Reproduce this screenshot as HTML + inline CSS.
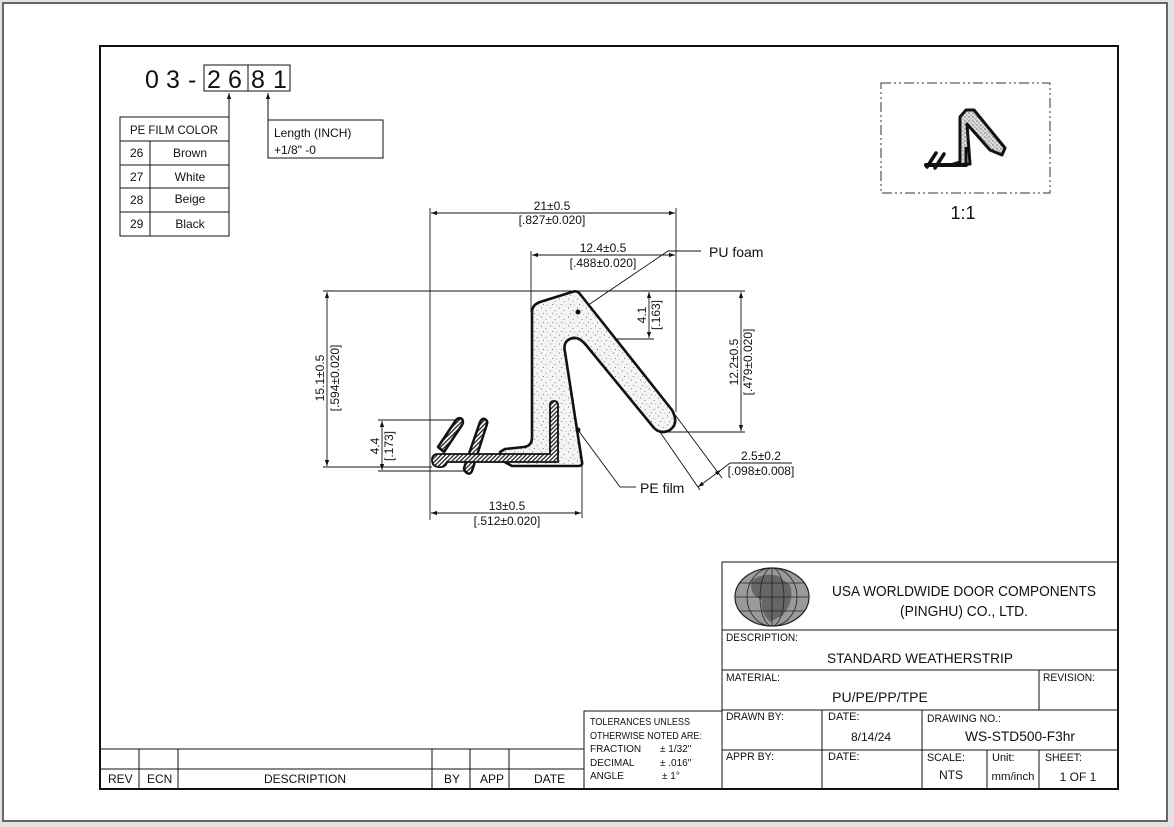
<!DOCTYPE html>
<html><head><meta charset="utf-8"><style>
html,body{margin:0;padding:0;background:#e2e2e2;}
body{width:1174px;height:827px;overflow:hidden;position:relative;font-family:"Liberation Sans",sans-serif;}
svg{position:absolute;left:0;top:0;}
text{font-family:"Liberation Sans",sans-serif;fill:#111;}
</style></head><body>
<svg width="1174" height="827" viewBox="0 0 1174 827" xmlns="http://www.w3.org/2000/svg">
<defs>
<pattern id="dots" width="9" height="9" patternUnits="userSpaceOnUse">
<rect width="9" height="9" fill="#f4f4f4"/>
<circle cx="1.5" cy="2" r="0.55" fill="#555"/><circle cx="6" cy="4.5" r="0.5" fill="#666"/><circle cx="3.5" cy="7.5" r="0.5" fill="#555"/><circle cx="7.8" cy="8.2" r="0.4" fill="#777"/>
</pattern>
<pattern id="dots2" width="4" height="4" patternUnits="userSpaceOnUse">
<rect width="4" height="4" fill="#ddd"/><circle cx="1" cy="1" r="0.6" fill="#333"/><circle cx="3" cy="3" r="0.5" fill="#444"/>
</pattern>
<pattern id="hatch" width="3" height="3" patternUnits="userSpaceOnUse" patternTransform="rotate(45)">
<rect width="3" height="3" fill="#fff"/><rect width="1.3" height="3" fill="#222"/>
</pattern>
<marker id="ar" viewBox="0 0 10 10" refX="10" refY="5" markerWidth="9" markerHeight="6" orient="auto-start-reverse" markerUnits="userSpaceOnUse"><path d="M0,1.5 L10,5 L0,8.5 z" fill="#111"/></marker>
</defs>
<rect x="3" y="3" width="1164" height="818" fill="#fff" stroke="#666" stroke-width="2"/>
<rect x="100" y="46" width="1018" height="743" fill="none" stroke="#111" stroke-width="2"/>

<!-- part number -->
<g font-size="25">
<text x="145" y="88">0</text><text x="166" y="88">3</text><text x="188" y="88">-</text>
<text x="207" y="88">2</text><text x="228" y="88">6</text><text x="251" y="88">8</text><text x="273" y="88">1</text>
</g>
<rect x="204" y="65" width="86" height="26" fill="none" stroke="#111" stroke-width="1"/>
<line x1="248" y1="65" x2="248" y2="91" stroke="#111"/>
<line x1="229" y1="117" x2="229" y2="93" stroke="#111" marker-end="url(#ar)"/>
<line x1="268" y1="120" x2="268" y2="93" stroke="#111" marker-end="url(#ar)"/>
<g stroke="#111" stroke-width="1" fill="none">
<rect x="120" y="117" width="109" height="119"/>
<line x1="120" y1="141" x2="229" y2="141"/><line x1="120" y1="165" x2="229" y2="165"/><line x1="120" y1="188" x2="229" y2="188"/><line x1="120" y1="212" x2="229" y2="212"/>
<line x1="150" y1="141" x2="150" y2="236"/>
<rect x="268" y="120" width="115" height="38"/>
</g>
<g font-size="12">
<text x="174" y="134" text-anchor="middle" textLength="88" lengthAdjust="spacingAndGlyphs">PE FILM COLOR</text>
<text x="130" y="157">26</text><text x="190" y="157" text-anchor="middle">Brown</text>
<text x="130" y="181">27</text><text x="190" y="181" text-anchor="middle">White</text>
<text x="130" y="204">28</text><text x="190" y="203" text-anchor="middle">Beige</text>
<text x="130" y="228">29</text><text x="190" y="228" text-anchor="middle">Black</text>
<text x="274" y="137">Length (INCH)</text><text x="274" y="154">+1/8" -0</text>
</g>

<!-- small view -->
<rect x="881" y="83" width="169" height="110" fill="none" stroke="#333" stroke-dasharray="10,3,2,3,2,3"/>
<text x="963" y="219" font-size="18" text-anchor="middle">1:1</text>
<path d="M960,162 L960,117 L966,110 L974,110 L1005,148 L1002,155 L990,150 L967,124 L970,164 L950,165 Z" fill="url(#dots2)" stroke="#111" stroke-width="3" stroke-linejoin="round"/>
<path d="M926,165 L966,165" stroke="#111" stroke-width="4" stroke-linecap="round"/>
<path d="M927,167 L936,153 M935,168 L944,154" stroke="#111" stroke-width="3.5" stroke-linecap="round"/>
<path d="M966,147 L966,164" stroke="#111" stroke-width="3"/>

<!-- dimensions -->
<g stroke="#111" stroke-width="0.9" fill="none">
<line x1="430" y1="208" x2="430" y2="520"/>
<line x1="676" y1="208" x2="676" y2="412"/>
<line x1="431" y1="213" x2="675" y2="213" marker-start="url(#ar)" marker-end="url(#ar)"/>
<line x1="531" y1="251" x2="531" y2="312"/>
<line x1="532" y1="255" x2="675" y2="255" marker-start="url(#ar)" marker-end="url(#ar)"/>
<line x1="323" y1="291" x2="745" y2="291"/>
<line x1="327" y1="292" x2="327" y2="466" marker-start="url(#ar)" marker-end="url(#ar)"/>
<line x1="323" y1="467" x2="432" y2="467"/>
<line x1="741" y1="292" x2="741" y2="431" marker-start="url(#ar)" marker-end="url(#ar)"/>
<line x1="660" y1="432" x2="745" y2="432"/>
<line x1="649" y1="292" x2="649" y2="338" marker-start="url(#ar)" marker-end="url(#ar)"/>
<line x1="568" y1="339" x2="654" y2="339"/>
<line x1="378" y1="420" x2="458" y2="420"/>
<line x1="378" y1="471" x2="470" y2="471"/>
<line x1="382" y1="421" x2="382" y2="470" marker-start="url(#ar)" marker-end="url(#ar)"/>
<line x1="582" y1="462" x2="582" y2="518"/>
<line x1="431" y1="513" x2="581" y2="513" marker-start="url(#ar)" marker-end="url(#ar)"/>
<line x1="660" y1="432" x2="700" y2="490"/>
<line x1="673" y1="412" x2="722" y2="478"/>
<line x1="698" y1="487" x2="721" y2="470" marker-start="url(#ar)" marker-end="url(#ar)"/>
<line x1="721" y1="470" x2="730" y2="463"/>
<line x1="730" y1="463" x2="792" y2="463"/>
<line x1="578" y1="312" x2="668" y2="251"/><line x1="668" y1="251" x2="701" y2="251"/>
<line x1="578" y1="430" x2="620" y2="487"/><line x1="620" y1="487" x2="636" y2="487"/>
</g>
<g font-size="12" text-anchor="middle">
<text x="552" y="210">21±0.5</text><text x="552" y="224">[.827±0.020]</text>
<text x="603" y="252">12.4±0.5</text><text x="603" y="267">[.488±0.020]</text>
<text x="507" y="510">13±0.5</text><text x="507" y="525">[.512±0.020]</text>
<text x="761" y="460">2.5±0.2</text><text x="761" y="475">[.098±0.008]</text>
<text transform="translate(324,378) rotate(-90)">15.1±0.5</text><text transform="translate(339,378) rotate(-90)">[.594±0.020]</text>
<text transform="translate(738,362) rotate(-90)">12.2±0.5</text><text transform="translate(752,362) rotate(-90)">[.479±0.020]</text>
<text transform="translate(646,315) rotate(-90)">4.1</text><text transform="translate(660,315) rotate(-90)">[.163]</text>
<text transform="translate(379,446) rotate(-90)">4.4</text><text transform="translate(393,446) rotate(-90)">[.173]</text>
</g>
<text x="709" y="257" font-size="14">PU foam</text>
<text x="640" y="493" font-size="14">PE film</text>

<!-- profile -->
<path d="M532,312 Q532,305 540,302 L572,292 Q577,290 580,294 L672,410 Q680,425 668,431 Q660,434 654,428 L586,345 Q577,334 568,340 Q563,344 565,352 L582,462 Q583,466 578,466 L512,466 L503,461 L500,452 L505,449 L524,447 Q532,446 532,437 Z" fill="url(#dots)" stroke="#111" stroke-width="2.6" stroke-linejoin="round"/>
<path d="M438,447 L456,420 Q459,417 462,419 Q464,422 462,425 L444,452 Z" fill="url(#hatch)" stroke="#111" stroke-width="2.5" stroke-linejoin="round"/>
<path d="M464,468 L480,422 Q482,418 485,419 Q488,421 487,424 L472,471 Q470,475 467,473 Q464,471 464,468 Z" fill="url(#hatch)" stroke="#111" stroke-width="2.5" stroke-linejoin="round"/>
<path d="M438,454 L550,454 L550,405 Q550,401 554,401 Q558,401 558,405 L558,462 L447,462 Q446,468 438,467 Q432,466 432,460 Q432,454 438,454 Z" fill="url(#hatch)" stroke="#111" stroke-width="1.8"/>
<circle cx="578" cy="312" r="2.5" fill="#111"/>
<circle cx="578" cy="430" r="2.5" fill="#111"/>

<!-- revision table -->
<g stroke="#111" stroke-width="1" fill="none">
<line x1="100" y1="749" x2="584" y2="749"/><line x1="100" y1="769" x2="584" y2="769"/>
<line x1="139" y1="749" x2="139" y2="789"/><line x1="178" y1="749" x2="178" y2="789"/><line x1="432" y1="749" x2="432" y2="789"/><line x1="470" y1="749" x2="470" y2="789"/><line x1="509" y1="749" x2="509" y2="789"/>
<rect x="584" y="711" width="138" height="78"/>
<rect x="722" y="562" width="396" height="227"/>
<line x1="722" y1="630" x2="1118" y2="630"/><line x1="722" y1="670" x2="1118" y2="670"/><line x1="722" y1="710" x2="1118" y2="710"/><line x1="722" y1="750" x2="1118" y2="750"/>
<line x1="1039" y1="670" x2="1039" y2="710"/>
<line x1="822" y1="710" x2="822" y2="789"/><line x1="922" y1="710" x2="922" y2="789"/>
<line x1="987" y1="750" x2="987" y2="789"/><line x1="1039" y1="750" x2="1039" y2="789"/>
</g>
<g font-size="12">
<text x="108" y="783">REV</text><text x="147" y="783">ECN</text><text x="305" y="783" text-anchor="middle">DESCRIPTION</text>
<text x="444" y="783">BY</text><text x="480" y="783">APP</text><text x="534" y="783">DATE</text>
</g>
<g font-size="10">
<text x="590" y="725" textLength="100" lengthAdjust="spacingAndGlyphs">TOLERANCES UNLESS</text><text x="590" y="739" textLength="112" lengthAdjust="spacingAndGlyphs">OTHERWISE NOTED ARE:</text>
<text x="590" y="752">FRACTION</text><text x="660" y="752">± 1/32"</text>
<text x="590" y="766">DECIMAL</text><text x="660" y="766">± .016"</text>
<text x="590" y="779">ANGLE</text><text x="662" y="779">± 1°</text>
</g>
<!-- globe -->
<g>
<ellipse cx="772" cy="597" rx="37" ry="29" fill="#9a9a9a" stroke="#222" stroke-width="1.2"/>
<path d="M752,580 Q765,572 778,576 L790,585 Q795,600 783,615 L770,622 Q760,612 762,600 Q748,595 752,580 Z" fill="#666"/>
<g stroke="#222" stroke-width="0.8" fill="none">
<ellipse cx="772" cy="597" rx="12" ry="29"/><ellipse cx="772" cy="597" rx="25" ry="29"/>
<line x1="772" y1="568" x2="772" y2="626"/>
<line x1="740" y1="583" x2="804" y2="583"/><line x1="736" y1="597" x2="808" y2="597"/><line x1="740" y1="611" x2="804" y2="611"/>
</g>
</g>
<text x="964" y="596" font-size="15" text-anchor="middle" textLength="264" lengthAdjust="spacingAndGlyphs">USA WORLDWIDE DOOR COMPONENTS</text>
<text x="964" y="616" font-size="15" text-anchor="middle" textLength="128" lengthAdjust="spacingAndGlyphs">(PINGHU) CO., LTD.</text>
<g font-size="11">
<text x="726" y="641" textLength="72" lengthAdjust="spacingAndGlyphs">DESCRIPTION:</text><text x="726" y="681" textLength="54" lengthAdjust="spacingAndGlyphs">MATERIAL:</text><text x="1043" y="681" textLength="52" lengthAdjust="spacingAndGlyphs">REVISION:</text>
<text x="726" y="720" textLength="58" lengthAdjust="spacingAndGlyphs">DRAWN BY:</text><text x="828" y="720">DATE:</text><text x="927" y="722" textLength="74" lengthAdjust="spacingAndGlyphs">DRAWING NO.:</text>
<text x="726" y="760" textLength="48" lengthAdjust="spacingAndGlyphs">APPR BY:</text><text x="828" y="760">DATE:</text><text x="927" y="761" textLength="38" lengthAdjust="spacingAndGlyphs">SCALE:</text><text x="992" y="761">Unit:</text><text x="1045" y="761" textLength="37" lengthAdjust="spacingAndGlyphs">SHEET:</text>
</g>
<text x="920" y="663" font-size="14" text-anchor="middle" textLength="186" lengthAdjust="spacingAndGlyphs">STANDARD WEATHERSTRIP</text>
<text x="880" y="702" font-size="14" text-anchor="middle">PU/PE/PP/TPE</text>
<text x="871" y="741" font-size="12" text-anchor="middle">8/14/24</text>
<text x="1020" y="741" font-size="14" text-anchor="middle" textLength="110" lengthAdjust="spacingAndGlyphs">WS-STD500-F3hr</text>
<text x="951" y="779" font-size="12" text-anchor="middle">NTS</text>
<text x="1013" y="780" font-size="11" text-anchor="middle" textLength="43" lengthAdjust="spacingAndGlyphs">mm/inch</text>
<text x="1078" y="781" font-size="12" text-anchor="middle">1  OF  1</text>
</svg>
</body></html>
